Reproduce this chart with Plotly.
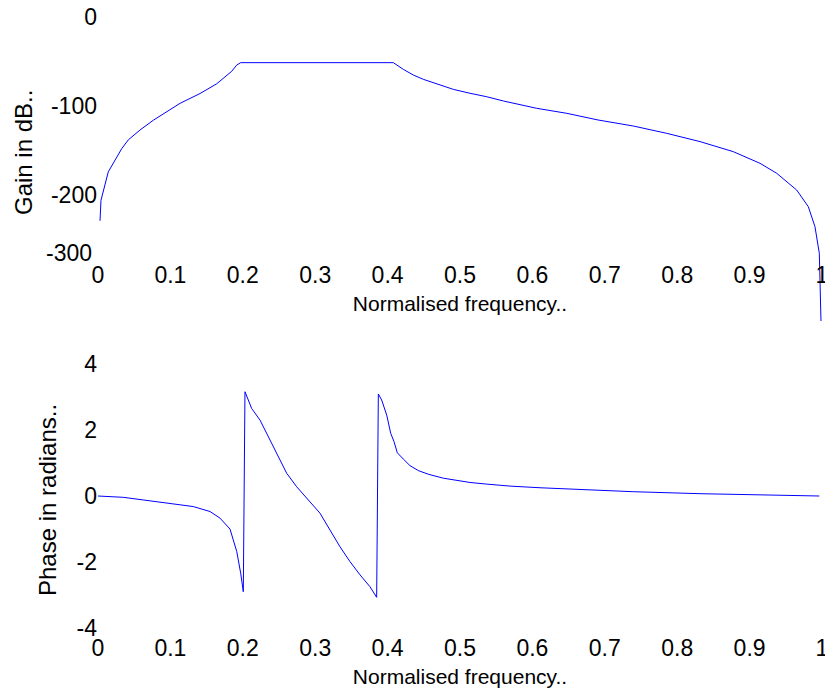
import plotly.graph_objects as go

# Normalised frequency (1 = Nyquist) and magnitude response in dB
gain_freq = [0.0028, 0.0041, 0.0142, 0.0235, 0.0327, 0.0419, 0.058, 0.0764, 0.0949,
             0.1133, 0.1409, 0.164, 0.1847, 0.1916, 0.1971, 0.4079, 0.4217, 0.4355,
             0.4493, 0.4678, 0.4908, 0.5138, 0.5369, 0.5601, 0.5921, 0.6059, 0.6474,
             0.6906, 0.7394, 0.7855, 0.8315, 0.8775, 0.9144, 0.9374, 0.965, 0.9811,
             0.9903, 0.9963, 0.9986]
gain_db = [-229, -206, -174, -161, -148, -138, -127, -116, -106,
           -97, -86, -75, -61, -54, -51.3, -51.3, -58.8, -65.2,
           -70.0, -75.3, -81.3, -85.7, -89.6, -94.4, -100, -102.6, -108.2,
           -115.7, -122.5, -130.7, -140, -151.3, -164.4, -175.6, -194.4, -213.1,
           -235.6, -265.5, -341.6]

# Phase response in radians
phase_freq = [0.0, 0.0349, 0.0626, 0.0994, 0.1316, 0.1547, 0.1685, 0.1823, 0.1916,
              0.1971, 0.2007, 0.2030, 0.2123, 0.2238, 0.2376, 0.2514, 0.2606, 0.2744,
              0.2928, 0.3066, 0.3204, 0.3343, 0.3481, 0.3619, 0.3757, 0.3849, 0.3872,
              0.3918, 0.3988, 0.4043, 0.4088, 0.4134, 0.4217, 0.4309, 0.4424, 0.4562,
              0.4769, 0.4954, 0.5138, 0.5369, 0.5691, 0.6105, 0.6657, 0.7394, 0.8315,
              0.9396, 0.9963]
phase_rad = [0.0, -0.04, -0.12, -0.22, -0.32, -0.47, -0.67, -1.00, -1.68,
             -2.34, -2.90, 3.16, 2.65, 2.30, 1.70, 1.14, 0.69, 0.28,
             -0.17, -0.52, -1.03, -1.54, -1.99, -2.39, -2.75, -3.07, 3.09,
             2.91, 2.45, 1.90, 1.65, 1.31, 1.12, 0.92, 0.77, 0.66,
             0.54, 0.48, 0.41, 0.36, 0.30, 0.25, 0.20, 0.13, 0.07,
             0.01, 0.0]

freq_ticks = [0, 0.1, 0.2, 0.3, 0.4, 0.5, 0.6, 0.7, 0.8, 0.9, 1]
freq_tick_text = ["0", "0.1", "0.2", "0.3", "0.4", "0.5", "0.6", "0.7", "0.8", "0.9", "1"]
gain_ticks = [0, -100, -200]
gain_tick_text = ["0", "-100", "-200"]
phase_ticks = [4, 2, 0, -2, -4]
phase_tick_text = ["4", "2", "0", "-2", "-4"]

W, H = 825, 693
ML, MR = 98, 3
FONT = "Liberation Sans, Arial, sans-serif"
BLUE = "#0000ff"
TICK_FONT = dict(family=FONT, size=23, color="black")
YTITLE_FONT = dict(family=FONT, size=24, color="black")


def py(px):
    """Pixel row measured from the top -> paper fraction."""
    return 1 - px / H


def px_to_paper_x(px):
    return (px - ML) / (W - ML - MR)


fig = go.Figure()
fig.add_trace(go.Scatter(x=gain_freq, y=gain_db, mode="lines",
                         line=dict(color=BLUE, width=1), xaxis="x", yaxis="y",
                         showlegend=False, hoverinfo="skip"))
fig.add_trace(go.Scatter(x=phase_freq, y=phase_rad, mode="lines",
                         line=dict(color=BLUE, width=1), xaxis="x2", yaxis="y2",
                         showlegend=False, hoverinfo="skip"))

common_x = dict(range=[0, 1], tickmode="array", tickvals=freq_ticks,
                ticktext=freq_tick_text, showgrid=False, zeroline=False,
                showline=False, ticks="", tickfont=TICK_FONT,
                ticklabeloverflow="allow", automargin=False,
                anchor="free", domain=[0, 1])
title_x = dict(text="Normalised frequency..", font=dict(family=FONT, size=21, color="black"),
               standoff=9)
common_y = dict(tickmode="array", showgrid=False, zeroline=False, showline=False,
                ticks="", tickfont=TICK_FONT, automargin=False)

# gain axis: 0 dB at row 17, 0.89 px per dB, plot area runs to row 330
gain_top, gain_bottom = 17, 330
gain_scale = 0.89
gain_min = -(gain_bottom - gain_top) / gain_scale

fig.update_layout(
    template="none",
    width=W, height=H,
    margin=dict(l=ML, r=MR, t=0, b=0, pad=0),
    paper_bgcolor="white", plot_bgcolor="white",
    xaxis=dict(**common_x, position=py(259), title=title_x),
    yaxis=dict(**common_y, range=[gain_min, 0], domain=[py(gain_bottom), py(gain_top)],
               tickvals=gain_ticks, ticktext=gain_tick_text),
    xaxis2=dict(**common_x, position=py(632), title=title_x),
    yaxis2=dict(**common_y, range=[-4, 4], domain=[py(628), py(364)],
                tickvals=phase_ticks, ticktext=phase_tick_text),
    annotations=[
        dict(text="-300", x=0, xref="paper", xanchor="right", xshift=-4,
             y=py(253), yref="paper", yanchor="middle", showarrow=False,
             font=TICK_FONT),
        dict(text="Gain in dB..", textangle=-90, x=px_to_paper_x(24), xref="paper",
             y=py(153), yref="paper", xanchor="center", yanchor="middle",
             showarrow=False, font=YTITLE_FONT),
        dict(text="Phase in radians..", textangle=-90, x=px_to_paper_x(47), xref="paper",
             y=py(500), yref="paper", xanchor="center", yanchor="middle",
             showarrow=False, font=YTITLE_FONT),
    ],
)

fig.write_html("out.html")
